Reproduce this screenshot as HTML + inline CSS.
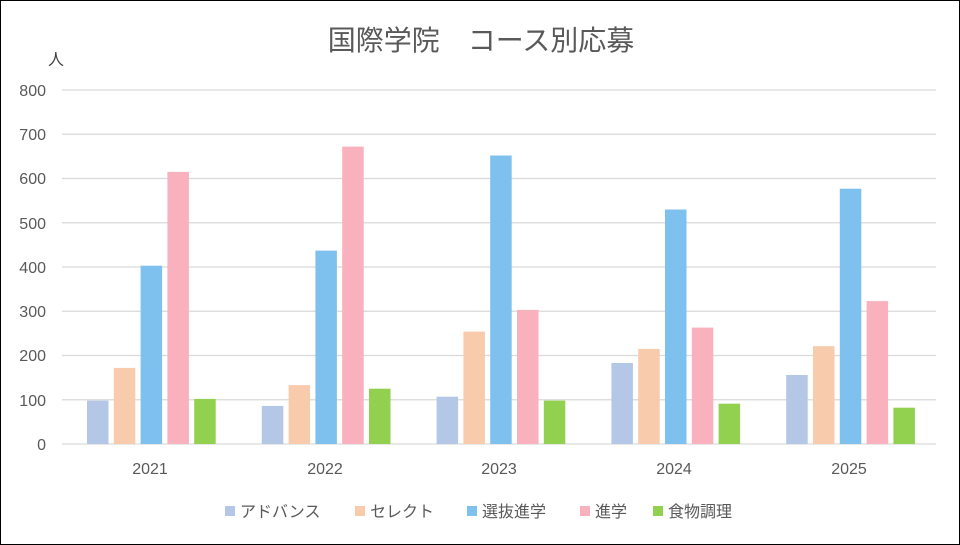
<!DOCTYPE html>
<html><head><meta charset="utf-8"><style>
body{margin:0;background:#fff}
svg{display:block;font-family:"Liberation Sans","Noto Sans CJK JP",sans-serif}
</style></head><body>
<svg width="960" height="545" viewBox="0 0 960 545">
<rect x="0.5" y="0.5" width="959" height="544" fill="#fff" stroke="#000" stroke-width="1"/>
<text x="481" y="50" text-anchor="middle" font-size="28" fill="#595959">国際学院　コース別応募</text>
<text x="48" y="65" font-size="16" fill="#404040">人</text>
<g stroke="#d9d9d9" stroke-width="1.3">
<line x1="62" x2="936" y1="90" y2="90"/><line x1="62" x2="936" y1="134.25" y2="134.25"/>
<line x1="62" x2="936" y1="178.5" y2="178.5"/><line x1="62" x2="936" y1="222.75" y2="222.75"/>
<line x1="62" x2="936" y1="267" y2="267"/><line x1="62" x2="936" y1="311.25" y2="311.25"/>
<line x1="62" x2="936" y1="355.5" y2="355.5"/><line x1="62" x2="936" y1="399.75" y2="399.75"/>
<line x1="62" x2="936" y1="444" y2="444"/>
</g>
<g font-size="16" fill="#595959" text-anchor="end">
<text x="46" y="96">800</text><text x="46" y="140">700</text><text x="46" y="184">600</text>
<text x="46" y="229">500</text><text x="46" y="273">400</text><text x="46" y="317">300</text>
<text x="46" y="361">200</text><text x="46" y="406">100</text><text x="46" y="450">0</text>
</g>
<g>
<rect x="87" y="400.6" width="21.5" height="43.4" fill="#b4c7e7"/>
<rect x="113.8" y="367.9" width="21.5" height="76.1" fill="#f8cbad"/>
<rect x="140.6" y="265.7" width="21.5" height="178.3" fill="#7fc1ee"/>
<rect x="167.4" y="171.9" width="21.5" height="272.1" fill="#f9b1bd"/>
<rect x="194.2" y="398.9" width="21.5" height="45.1" fill="#92d050"/>
<rect x="261.8" y="405.9" width="21.5" height="38.1" fill="#b4c7e7"/>
<rect x="288.6" y="385.1" width="21.5" height="58.9" fill="#f8cbad"/>
<rect x="315.4" y="250.6" width="21.5" height="193.4" fill="#7fc1ee"/>
<rect x="342.2" y="146.6" width="21.5" height="297.4" fill="#f9b1bd"/>
<rect x="369" y="388.7" width="21.5" height="55.3" fill="#92d050"/>
<rect x="436.6" y="396.7" width="21.5" height="47.3" fill="#b4c7e7"/>
<rect x="463.4" y="331.6" width="21.5" height="112.4" fill="#f8cbad"/>
<rect x="490.2" y="155.5" width="21.5" height="288.5" fill="#7fc1ee"/>
<rect x="517" y="309.9" width="21.5" height="134.1" fill="#f9b1bd"/>
<rect x="543.8" y="400.6" width="21.5" height="43.4" fill="#92d050"/>
<rect x="611.4" y="363" width="21.5" height="81" fill="#b4c7e7"/>
<rect x="638.2" y="348.9" width="21.5" height="95.1" fill="#f8cbad"/>
<rect x="665" y="209.5" width="21.5" height="234.5" fill="#7fc1ee"/>
<rect x="691.8" y="327.6" width="21.5" height="116.4" fill="#f9b1bd"/>
<rect x="718.6" y="403.7" width="21.5" height="40.3" fill="#92d050"/>
<rect x="786.2" y="375" width="21.5" height="69" fill="#b4c7e7"/>
<rect x="813" y="346.2" width="21.5" height="97.8" fill="#f8cbad"/>
<rect x="839.8" y="188.7" width="21.5" height="255.3" fill="#7fc1ee"/>
<rect x="866.6" y="301.1" width="21.5" height="142.9" fill="#f9b1bd"/>
<rect x="893.4" y="407.7" width="21.5" height="36.3" fill="#92d050"/>
</g>
<g font-size="16" fill="#595959" text-anchor="middle">
<text x="150" y="474">2021</text><text x="325" y="474">2022</text><text x="499" y="474">2023</text>
<text x="674" y="474">2024</text><text x="849" y="474">2025</text>
</g>
<g font-size="16" fill="#595959">
<rect x="225" y="506" width="10" height="10" fill="#b4c7e7"/><text x="240" y="517">アドバンス</text>
<rect x="355" y="506" width="10" height="10" fill="#f8cbad"/><text x="370" y="517">セレクト</text>
<rect x="467" y="506" width="10" height="10" fill="#7fc1ee"/><text x="482" y="517">選抜進学</text>
<rect x="580" y="506" width="10" height="10" fill="#f9b1bd"/><text x="595" y="517">進学</text>
<rect x="653" y="506" width="10" height="10" fill="#92d050"/><text x="668" y="517">食物調理</text>
</g>
</svg>
</body></html>
